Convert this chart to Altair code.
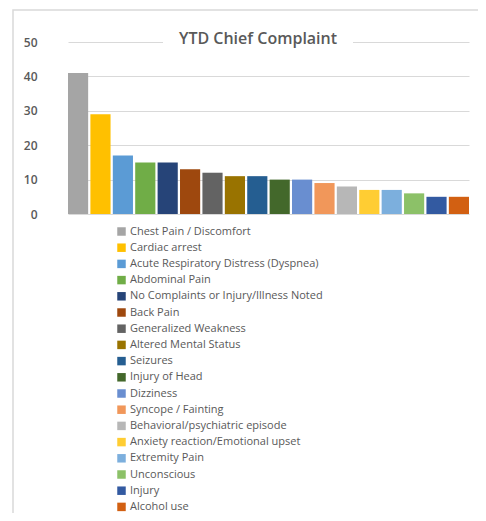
import altair as alt
import pandas as pd

complaints = [
    "Chest Pain / Discomfort", "Cardiac arrest", "Acute Respiratory Distress (Dyspnea)",
    "Abdominal Pain", "No Complaints or Injury/Illness Noted", "Back Pain",
    "Generalized Weakness", "Altered Mental Status", "Seizures", "Injury of Head",
    "Dizziness", "Syncope / Fainting", "Behavioral/psychiatric episode",
    "Anxiety reaction/Emotional upset", "Extremity Pain", "Unconscious", "Injury",
    "Alcohol use",
]
counts = [41, 29, 17, 15, 15, 13, 12, 11, 11, 10, 10, 9, 8, 7, 7, 6, 5, 5]
colors = [
    "#A5A5A5", "#FFC000", "#5B9BD5", "#70AD47", "#264478", "#9E480E",
    "#636363", "#997300", "#255E91", "#43682B", "#698ED0", "#F1975A",
    "#B7B7B7", "#FFCD33", "#7CAFDD", "#8CC168", "#335AA1", "#D26012",
]
y_ticks = [0, 10, 20, 30, 40, 50]
title_text = "YTD Chief Complaint"

FONT = "Open Sans"
TXT = "#595959"

df = pd.DataFrame({"complaint": complaints, "count": counts})

border = alt.Chart(pd.DataFrame({"a": [0]})).mark_rect(
    fill="transparent", stroke="#d9d9d9", strokeWidth=1.5
).encode(
    x=alt.value(-35), x2=alt.value(470), y=alt.value(-32), y2=alt.value(490)
)

bars = alt.Chart(df).mark_bar().encode(
    x=alt.X("complaint:N", sort=complaints, title=None,
            scale=alt.Scale(range=[20, 421], paddingInner=0.1, paddingOuter=0),
            axis=alt.Axis(labels=False, ticks=False, domain=False, grid=False)),
    y=alt.Y("count:Q", title=None,
            scale=alt.Scale(domain=[0, 50], nice=False),
            axis=alt.Axis(values=y_ticks, grid=True, gridColor="#d9d9d9", gridWidth=1.2,
                          domain=False, ticks=False, labelColor=TXT, labelFont=FONT,
                          labelFontSize=12, labelFontWeight=600, labelPadding=11)),
    color=alt.Color("complaint:N", sort=complaints,
                    scale=alt.Scale(domain=complaints, range=colors),
                    legend=alt.Legend(
                        title=None, orient="none", legendX=68, legendY=184,
                        direction="vertical", symbolType="square", symbolSize=72,
                        symbolStrokeWidth=0, labelFont=FONT, labelFontSize=11,
                        labelColor=TXT, labelOffset=3, rowPadding=4.2,
                        labelLimit=400, columns=1)),
)

title_bg = alt.Chart(pd.DataFrame({"t": [title_text]})).mark_rect(fill="white").encode(
    x=alt.value(115), x2=alt.value(305), y=alt.value(-11), y2=alt.value(5)
)
title = alt.Chart(pd.DataFrame({"t": [title_text]})).mark_text(
    font=FONT, fontSize=16, fontWeight=600, color=TXT, baseline="middle", align="center"
).encode(text="t:N", x=alt.value(210), y=alt.value(-3))

chart = alt.layer(border, bars, title_bg, title).properties(
    width=430, height=172,
    autosize=alt.AutoSizeParams(type="none"),
    padding={"left": 40, "top": 34, "right": 0, "bottom": 299},
).configure_view(stroke=None)

chart.save("out.html", embed_options={"renderer": "svg", "actions": False})
